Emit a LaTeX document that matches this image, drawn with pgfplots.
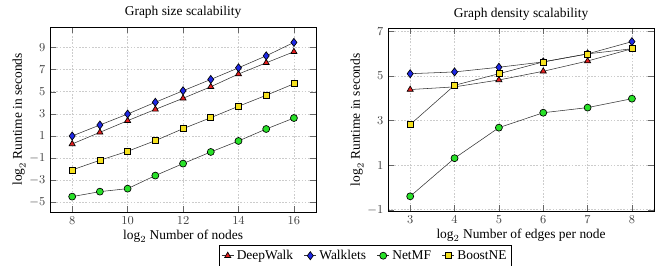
\documentclass[border=0pt]{standalone}
\usepackage{fontspec}
\setmainfont{Liberation Serif}
\usepackage{pgfplots}
\pgfplotsset{compat=1.18}
\definecolor{mred}{RGB}{230,30,30}
\definecolor{mblue}{RGB}{30,40,230}
\definecolor{mgreen}{RGB}{40,225,40}
\definecolor{myellow}{RGB}{245,225,30}
\pgfplotsset{
  every axis/.append style={
    scale only axis, width=198pt,
    grid=major, grid style={dash pattern=on 1.2pt off 1.2pt, gray!40},
    tick style={black!60}, tick label style={font=\small, black!75},
    title style={font=\normalsize, yshift=-3pt},
    label style={font=\normalsize},
    legend image code/.code={\draw[mark repeat=2,mark phase=2,#1] plot coordinates {(0cm,0cm)(0.16cm,0cm)(0.32cm,0cm)};},
  },
  base/.style={draw=black!80, thin, mark size=2.6pt},
  dw/.style={base, mark=triangle*, mark options={solid, draw=black, fill=mred, line width=0.5pt}},
  wk/.style={base, mark=diamond*, mark size=3pt, mark options={solid, draw=black, fill=mblue, line width=0.5pt}},
  nm/.style={base, mark=*, mark options={solid, draw=black, fill=mgreen, line width=0.5pt}},
  bn/.style={base, mark=square*, mark size=2.2pt, mark options={solid, draw=black, fill=myellow, line width=0.5pt}},
}
\begin{document}
\begin{tikzpicture}
\begin{axis}[
  height=137.5pt,
  title={Graph size scalability},
  xmin=7.2, xmax=16.8, ymin=-5.84, ymax=10.83,
  xtick={8,10,12,14,16}, ytick={-5,-3,-1,1,3,5,7,9},
  xlabel={$\log_2$ Number of nodes},
  ylabel={$\log_2$ Runtime in seconds},
  ylabel style={yshift=-4pt},
  xlabel style={yshift=3pt},
  legend columns=4,
  legend style={at={(1.185,-0.18)}, anchor=north, draw=black, font=\normalsize,
    /tikz/every even column/.append style={column sep=6pt}, inner sep=1.5pt},
]
\addplot[dw] coordinates {(8,0.28)(9,1.33)(10,2.38)(11,3.4)(12,4.4)(13,5.44)(14,6.59)(15,7.6)(16,8.6)};
\addlegendentry{DeepWalk}
\addplot[wk] coordinates {(8,1.0)(9,1.99)(10,2.98)(11,4.04)(12,5.08)(13,6.1)(14,7.15)(15,8.23)(16,9.44)};
\addlegendentry{Walklets}
\addplot[nm] coordinates {(8,-4.47)(9,-4.02)(10,-3.75)(11,-2.57)(12,-1.49)(13,-0.44)(14,0.55)(15,1.63)(16,2.62)};
\addlegendentry{NetMF}
\addplot[bn] coordinates {(8,-2.06)(9,-1.19)(10,-0.38)(11,0.58)(12,1.66)(13,2.65)(14,3.68)(15,4.67)(16,5.71)};
\addlegendentry{BoostNE}
\end{axis}
\begin{axis}[
  at={(251.5pt,0.75pt)}, anchor=south west,
  height=135.5pt,
  title={Graph density scalability},
  xmin=2.5, xmax=8.5, ymin=-1.05, ymax=7.12,
  xtick={3,4,5,6,7,8}, ytick={-1,1,3,5,7},
  xlabel={$\log_2$ Number of edges per node},
  ylabel={$\log_2$ Runtime in seconds},
  ylabel style={yshift=-4pt},
  xlabel style={yshift=3pt},
]
\addplot[dw] coordinates {(3,4.39)(4,4.51)(5,4.82)(6,5.21)(7,5.67)(8,6.22)};
\addplot[wk] coordinates {(3,5.1)(4,5.18)(5,5.39)(6,5.63)(7,5.99)(8,6.54)};
\addplot[nm] coordinates {(3,-0.4)(4,1.31)(5,2.68)(6,3.35)(7,3.58)(8,3.98)};
\addplot[bn] coordinates {(3,2.82)(4,4.58)(5,5.1)(6,5.63)(7,5.99)(8,6.22)};
\end{axis}
\pgfresetboundingbox
\path[use as bounding box] (-37.2pt,-40.2pt) rectangle (462.8pt,157.6pt);
\end{tikzpicture}
\end{document}
